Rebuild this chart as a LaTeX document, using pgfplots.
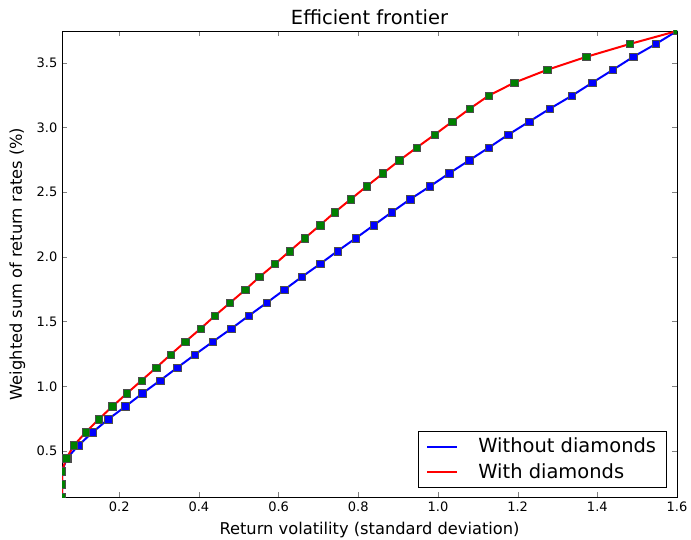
\documentclass[border=0pt]{standalone}
\usepackage{fontspec}
\setmainfont{DejaVu Sans}
\usepackage{pgfplots}
\pgfplotsset{compat=1.18}
\usepackage{pgfplotstable}

% frontier without diamonds: volatility, return
\pgfplotstableread{
x y
0.0563 0.145
0.0563 0.245
0.0563 0.345
0.069 0.445
0.098 0.545
0.133 0.645
0.172 0.745
0.2156 0.845
0.258 0.945
0.3025 1.045
0.346 1.145
0.390 1.245
0.435 1.345
0.481 1.445
0.525 1.545
0.570 1.645
0.614 1.745
0.658 1.845
0.704 1.945
0.748 2.045
0.794 2.145
0.839 2.245
0.884 2.345
0.930 2.445
0.980 2.545
1.028 2.645
1.078 2.745
1.128 2.845
1.177 2.945
1.229 3.045
1.281 3.145
1.336 3.245
1.387 3.345
1.439 3.445
1.490 3.545
1.547 3.645
1.600 3.745
}\nodiamonds

% frontier with diamonds
\pgfplotstableread{
x y
0.0563 0.145
0.0563 0.245
0.0563 0.345
0.0674 0.445
0.0865 0.545
0.116 0.645
0.148 0.745
0.183 0.845
0.219 0.945
0.256 1.045
0.293 1.145
0.329 1.245
0.366 1.345
0.404 1.445
0.440 1.545
0.478 1.645
0.516 1.745
0.552 1.845
0.591 1.945
0.628 2.045
0.666 2.145
0.704 2.245
0.741 2.345
0.781 2.445
0.821 2.545
0.862 2.645
0.903 2.745
0.947 2.845
0.992 2.945
1.036 3.045
1.080 3.145
1.127 3.245
1.191 3.345
1.274 3.445
1.372 3.545
1.482 3.645
1.600 3.745
}\withdiamonds

\definecolor{mplgreen}{rgb}{0,0.5,0}

\begin{document}
\begin{tikzpicture}
\begin{axis}[
    scale only axis,
    width=461.25pt, height=349.5pt,
    xmin=0.0563, xmax=1.6,
    ymin=0.145, ymax=3.745,
    xtick={0.2,0.4,...,1.6},
    ytick={0.5,1.0,...,3.5},
    tick align=inside,
    tick pos=both,
    major tick length=3.5pt,
    clip marker paths=true,
    /pgf/number format/assume math mode=true,
    /pgf/number format/.cd, fixed, fixed zerofill, precision=1,
    /pgfplots/.cd,
    tick label style={font=\fontsize{9.75}{11}\selectfont},
    title={Efficient frontier},
    title style={font=\fontsize{14.6}{17}\selectfont, at={(axis description cs:0.5,1)}, anchor=base, yshift=-1pt},
    xlabel={Return volatility (standard deviation)},
    ylabel={Weighted sum of return rates (\%)},
    label style={font=\fontsize{12.2}{14}\selectfont},
    x label style={at={(axis description cs:0.5,0)}, anchor=center, yshift=-24.75pt},
    y label style={at={(axis description cs:0,0.5)}, anchor=center, yshift=33.5pt},
    legend style={at={(axis description cs:1,0)}, anchor=south east,
        xshift=-7.5pt, yshift=6.75pt, draw=black, inner xsep=6pt, inner ysep=3.5pt,
        font=\fontsize{14.6}{17}\selectfont, cells={anchor=west},
        column sep=13pt, row sep=2.5pt},
    legend image code/.code={\draw[#1] (0pt,0pt) -- (22.5pt,0pt);},
]
\addplot[blue, line width=1.5pt] table[x=x, y=y] {\nodiamonds};
\addlegendentry{Without diamonds}
\addplot[only marks, mark=square*, mark size=2.8pt,
    mark options={fill=blue, draw=black!70, line width=0.4pt}, forget plot]
    table[x=x, y=y] {\nodiamonds};
\addplot[red, line width=1.5pt] table[x=x, y=y] {\withdiamonds};
\addlegendentry{With diamonds}
\addplot[only marks, mark=square*, mark size=2.8pt,
    mark options={fill=mplgreen, draw=black!70, line width=0.4pt}, forget plot]
    table[x=x, y=y] {\withdiamonds};
\coordinate (ll) at (rel axis cs:0,0);
\coordinate (ur) at (rel axis cs:1,1);
\end{axis}
\pgfresetboundingbox
\path ([xshift=-46.5pt, yshift=-31.5pt]ll) rectangle ([xshift=10.5pt, yshift=23.25pt]ur);
\end{tikzpicture}
\end{document}
